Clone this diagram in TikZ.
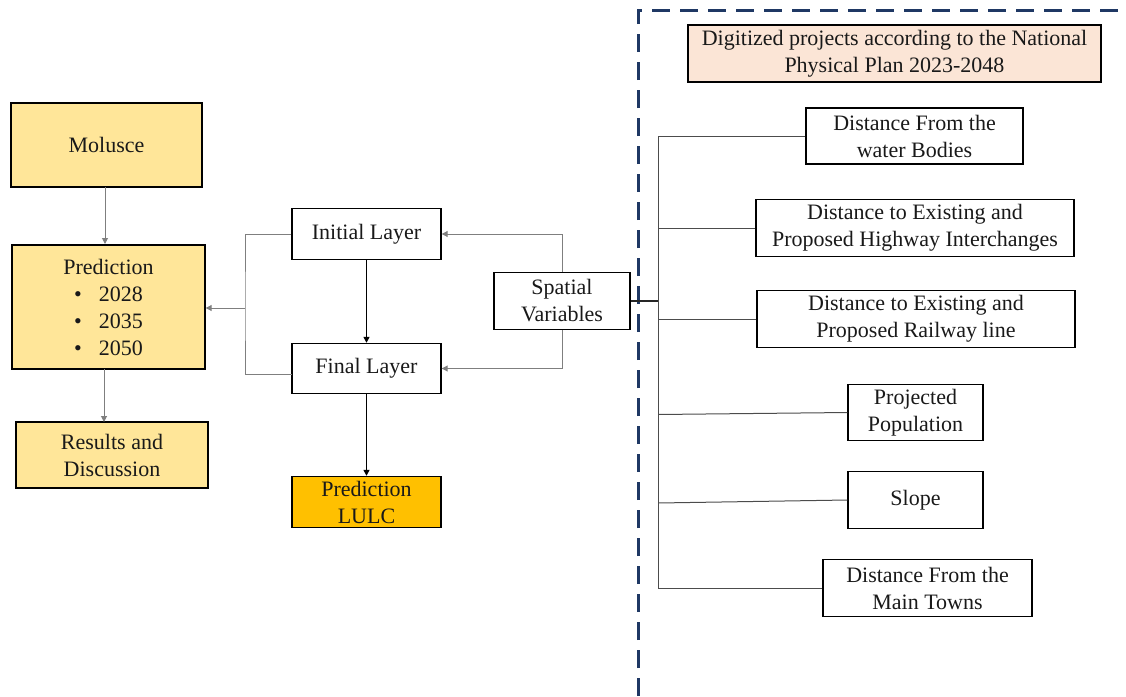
\documentclass[tikz,border=0pt]{standalone}
\usepackage{fontspec}
\setmainfont{Liberation Serif}
\usetikzlibrary{arrows.meta,calc}
\definecolor{softyellow}{HTML}{FFE699}
\definecolor{amber}{HTML}{FFC000}
\definecolor{peach}{HTML}{FBE5D6}
\definecolor{navy}{HTML}{1F3864}
\definecolor{linkgray}{HTML}{7F7F7F}
\begin{document}
\begin{tikzpicture}[x=1pt,y=-1pt,
  box/.style={draw=black, line width=1.4pt, inner sep=0pt, align=center,
    font=\fontsize{22}{27}\selectfont, text=black!90},
  ybox/.style={box, fill=softyellow},
  grayline/.style={draw=linkgray, line width=1pt},
  tip/.style={-{Triangle[length=6,width=6]}},
  treeline/.style={draw=black!70, line width=1pt}]
\useasboundingbox (0,0) rectangle (1126,696);

% left column
\node[ybox, minimum width=191, minimum height=84] (mol) at (106.5,145) {Molusce};
\node[ybox, minimum width=193, minimum height=124] (pred) at (108.5,307)
  {Prediction\\ \textbullet\hspace{17pt}2028\\ \textbullet\hspace{17pt}2035\\ \textbullet\hspace{17pt}2050};
\node[ybox, minimum width=192, minimum height=66] (res) at (112,455) {Results and\\Discussion};

% middle column
\node[box, minimum width=149, minimum height=51] (init) at (366.5,234) {Initial Layer};
\node[box, minimum width=149, minimum height=50] (fin) at (366.5,368.5) {Final Layer};
\node[box, fill=amber, minimum width=149, minimum height=51] (lulc) at (366.5,502) {Prediction\\LULC};
\node[box, minimum width=136, minimum height=57] (spat) at (562,301) {Spatial\\Variables};

% right panel
\node[box, fill=peach, minimum width=413, minimum height=57] (plan) at (894.5,53.5)
  {Digitized projects according to the National\\Physical Plan 2023-2048};
\node[box, minimum width=217, minimum height=56] (water) at (914.5,136) {Distance From the\\water Bodies};
\node[box, minimum width=318, minimum height=57] (hwy) at (915,228) {Distance to Existing and\\Proposed Highway Interchanges};
\node[box, minimum width=318, minimum height=57] (rail) at (916,319) {Distance to Existing and\\Proposed Railway line};
\node[box, minimum width=135, minimum height=56] (pop) at (915.5,412.5) {Projected\\Population};
\node[box, minimum width=135, minimum height=57] (slope) at (915.5,500) {Slope};
\node[box, minimum width=209, minimum height=57] (towns) at (927.5,588) {Distance From the\\Main Towns};

% dashed frame of the right panel
\draw[navy, line width=3pt, dash pattern=on 18pt off 10pt] (638,696) -- (638,10) -- (1126,10);

% left column flow
\coordinate (molout) at (105,187);
\coordinate (predin) at (105,244);
\coordinate (predout) at (104,369);
\coordinate (resin) at (104,422);
\draw[grayline, tip] (molout) -- (predin);
\draw[grayline, tip] (predout) -- (resin);

% layers feed the prediction
\coordinate (brk) at (245,308);
\coordinate (finleft) at (292,374);
\draw[grayline] (init.west) -| (brk) |- (finleft);
\draw[grayline, tip] (brk) -- (brk -| pred.east);

% spatial variables feed both layers
\draw[grayline, tip] (spat.north) |- (init.east);
\draw[grayline, tip] (spat.south) |- (fin.east);

% layer sequence
\draw[black, line width=1.3pt, tip] (init) -- (fin);
\draw[black, line width=1.3pt, tip] (fin) -- (lulc);

% variable tree
\coordinate (trunktop) at (658,136);
\coordinate (trunkbot) at (658,588);
\draw[black!85, line width=1.6pt] (spat.east) -- (spat.east -| trunktop);
\draw[treeline] (trunktop) -- (trunkbot);
\foreach \n in {water,hwy,rail,towns}
  \draw[treeline] (\n.west) -- (\n.west -| trunktop);
\draw[treeline] (pop.west) -- ($(pop.west -| trunktop)+(0,2)$);
\draw[treeline] (slope.west) -- ($(slope.west -| trunktop)+(0,3)$);
\end{tikzpicture}
\end{document}
